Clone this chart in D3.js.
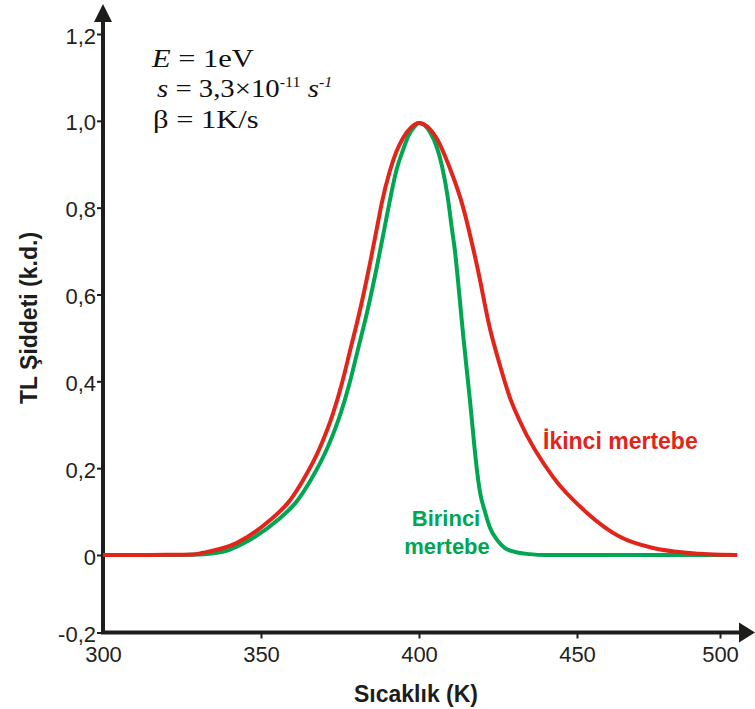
<!DOCTYPE html>
<html>
<head>
<meta charset="utf-8">
<script src="https://cdn.jsdelivr.net/npm/d3@7"></script>
<style>
  html, body { margin: 0; padding: 0; background: #fff; }
  svg { display: block; }
  .tick text { font-family: "Liberation Sans", Arial, sans-serif; font-size: 22px; fill: #231f20; }
</style>
</head>
<body>
<svg id="chart" width="755" height="709"></svg>
<script>
// ---- data ----
const xTicks = [300, 350, 400, 450, 500];
const yTicks = [-0.2, 0, 0.2, 0.4, 0.6, 0.8, 1.0, 1.2];

// Birinci mertebe (first order): [T (K), TL intensity]
const firstOrder = [
  [300,0],[315,0],[325,0],[330,0.001],[335,0.004],[340,0.012],[344.8,0.028],[355.2,0.080],
  [361.6,0.126],[365.7,0.172],[371.1,0.248],[375.2,0.326],[378,0.395],[380.6,0.471],
  [383.7,0.563],[386.9,0.672],[389.4,0.765],[390.6,0.81],[393,0.89],[394.8,0.93],
  [396.6,0.965],[398.5,0.986],[400,0.995],[403.5,0.974],[407.3,0.895],[409.2,0.819],
  [410.4,0.752],[411.4,0.699],[412.3,0.635],[413.9,0.512],[416.1,0.358],[418.4,0.192],
  [419.3,0.145],[420.9,0.099],[422.5,0.062],[424.7,0.035],[427.2,0.016],[430.4,0.007],
  [435.1,0.002],[439.9,0],[460,0],[480,0],[506,0]
];
// İkinci mertebe (second order)
const secondOrder = [
  [300,0],[315,0],[322,0.0005],[328.5,0.001],[331.6,0.005],[342.4,0.028],[352.8,0.080],
  [359.2,0.126],[363.3,0.172],[368.7,0.248],[372.8,0.326],[375.6,0.395],[378.2,0.471],
  [381.3,0.563],[384.5,0.672],[387,0.765],[388.2,0.81],[390.8,0.885],[392.8,0.928],
  [394.9,0.960],[397.5,0.985],[400,0.995],[405.7,0.958],[409.8,0.89],[413.6,0.81],
  [418.4,0.665],[422.5,0.52],[425.5,0.44],[428.8,0.362],[432,0.307],[442.4,0.18],
  [453.5,0.097],[465,0.042],[476.6,0.016],[488.5,0.005],[496,0.0015],[506,0]
];

const xTitle = "Sıcaklık (K)";
const yTitle = "TL Şiddeti (k.d.)";
const firstLabel = ["Birinci", "mertebe"];
const secondLabel = "İkinci mertebe";

// ---- drawing ----
const svg = d3.select("#chart");
const RED = "#e1251b", GREEN = "#00a652", AX = "#1d1d1b";

const x = d3.scaleLinear().domain([300, 450, 500]).range([103, 577, 720]);
const y = d3.scaleLinear().domain([-0.2, 0, 1.2]).range([632.5, 555, 34]);

const loc = d3.formatLocale({decimal: ",", thousands: ".", grouping: [3], currency: ["", ""], minus: "-"});
const f1 = loc.format(".1f");
const yFmt = d => Math.abs(d) < 1e-9 ? "0" : f1(d);

// y axis
const gy = svg.append("g").attr("transform", `translate(${x(300)},0)`)
  .call(d3.axisLeft(y).tickValues(yTicks).tickFormat(yFmt).tickSize(6).tickPadding(2));
gy.select(".domain").remove();
gy.selectAll(".tick line").attr("stroke", AX).attr("stroke-width", 2);
gy.selectAll(".tick text").attr("dy", "9px").attr("x", -7);

// x axis
const gx = svg.append("g").attr("transform", `translate(0,${y(-0.2)})`)
  .call(d3.axisBottom(x).tickValues(xTicks).tickFormat(d3.format("d")).tickSize(6).tickPadding(8));
gx.select(".domain").remove();
gx.selectAll(".tick line").attr("stroke", AX).attr("stroke-width", 2)
  .attr("display", d => d === 300 ? "none" : null);
gx.selectAll(".tick text").attr("dy", "0.71em").attr("y", 14);

// axis lines with arrows
const x0 = x(300), yb = y(-0.2);
svg.append("line").attr("x1", x0).attr("x2", x0).attr("y1", yb + 1.5).attr("y2", 20)
  .attr("stroke", AX).attr("stroke-width", 4);
svg.append("path").attr("d", `M${x0},4 L${x0 - 9},22 L${x0 + 9},22 Z`).attr("fill", AX);
svg.append("line").attr("x1", x0 - 2).attr("x2", 742).attr("y1", yb).attr("y2", yb)
  .attr("stroke", AX).attr("stroke-width", 4);
svg.append("path").attr("d", `M755,${yb} L739,${yb - 10} L739,${yb + 10} Z`).attr("fill", AX);

// curves
const line = d3.line().x(d => x(d[0])).y(d => y(d[1])).curve(d3.curveMonotoneX);
svg.append("path").datum(firstOrder).attr("d", line)
  .attr("fill", "none").attr("stroke", GREEN).attr("stroke-width", 4).attr("stroke-linejoin", "round");
svg.append("path").datum(secondOrder).attr("d", line)
  .attr("fill", "none").attr("stroke", RED).attr("stroke-width", 4).attr("stroke-linejoin", "round");

// axis titles
svg.append("text").attr("x", 416).attr("y", 702).attr("text-anchor", "middle")
  .attr("font-family", "'Liberation Sans', Arial, sans-serif").attr("font-weight", "bold")
  .attr("font-size", 23).attr("fill", AX).text(xTitle);
svg.append("text").attr("transform", "translate(37,318) rotate(-90)").attr("text-anchor", "middle")
  .attr("font-family", "'Liberation Sans', Arial, sans-serif").attr("font-weight", "bold")
  .attr("font-size", 23).attr("fill", AX).text(yTitle);

// curve labels
svg.append("text").attr("x", 543).attr("y", 449)
  .attr("font-family", "'Liberation Sans', Arial, sans-serif").attr("font-weight", "bold")
  .attr("font-size", 23).attr("fill", RED).text(secondLabel);
const gl = svg.append("text").attr("text-anchor", "middle")
  .attr("font-family", "'Liberation Sans', Arial, sans-serif").attr("font-weight", "bold")
  .attr("font-size", 22).attr("fill", GREEN);
gl.append("tspan").attr("x", 446).attr("y", 526).text(firstLabel[0]);
gl.append("tspan").attr("x", 447).attr("y", 554).text(firstLabel[1]);

// parameter annotation (serif, equation style)
const ann = svg.append("g").attr("font-family", "'Liberation Serif', 'Times New Roman', serif")
  .attr("font-size", 25).attr("fill", "#111");
const t1 = ann.append("text").attr("transform", "translate(152,67) scale(1.22,1)");
t1.append("tspan").attr("font-style", "italic").text("E");
t1.append("tspan").text(" = 1eV");
const t2 = ann.append("text").attr("transform", "translate(157,97) scale(1.15,1)");
t2.append("tspan").attr("font-style", "italic").text("s");
t2.append("tspan").text(" = 3,3×10");
t2.append("tspan").attr("font-size", 14).attr("dy", -10).text("-11");
t2.append("tspan").attr("dy", 10).text(" ");
t2.append("tspan").attr("font-style", "italic").text("s");
t2.append("tspan").attr("font-style", "italic").attr("font-size", 14).attr("dy", -10).text("-1");
const t3 = ann.append("text").attr("transform", "translate(153,128) scale(1.22,1)");
t3.append("tspan").text("β = 1K/s");
</script>
</body>
</html>
